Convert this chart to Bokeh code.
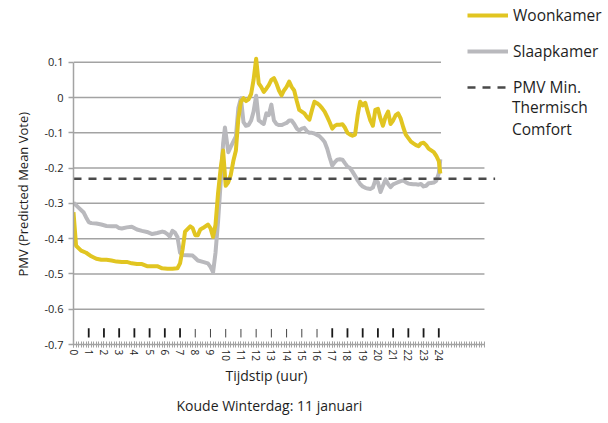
from bokeh.plotting import figure
from bokeh.models import Range1d, FixedTicker, Legend, LegendItem, Title
from bokeh.embed import file_html
from bokeh.resources import INLINE

FONT = "Open Sans"
TEXT = "#1e1e1e"
YELLOW = "#E1C521"
GRAY = "#B9B9BD"
DASH = "#4A4A4A"
GRID = "#A3A3A3"

# ---- data -------------------------------------------------------------
hour_ticks = list(range(0, 25))
y_ticks = [-0.7, -0.6, -0.5, -0.4, -0.3, -0.2, -0.1, 0.0, 0.1]
y_tick_labels = ["-0.7", "-0.6", "-0.5", "-0.4", "-0.3", "-0.2", "-0.1", "0", "0.1"]

woon_hours = [0.0, 0.17, 0.5, 0.83, 1.17, 1.5, 1.83, 2.17, 2.5, 2.83, 3.17, 3.5, 3.83,
              4.17, 4.5, 4.83, 5.17, 5.5, 5.83, 6.17, 6.5, 6.83, 7.0, 7.17, 7.33, 7.67,
              7.83, 8.0, 8.17, 8.33, 8.5, 8.83, 9.0, 9.17, 9.33, 9.5, 9.67, 9.83, 10.0,
              10.17, 10.33, 10.5, 10.67, 10.83, 11.0, 11.17, 11.33, 11.5, 11.67, 11.83,
              12.0, 12.17, 12.33, 12.5, 12.67, 12.83, 13.0, 13.17, 13.33, 13.5, 13.67,
              13.83, 14.0, 14.17, 14.33, 14.5, 14.67, 14.83, 15.0, 15.17, 15.33, 15.5,
              15.67, 15.83, 16.0, 16.17, 16.33, 16.5, 16.67, 16.83, 17.0, 17.17, 17.33,
              17.5, 17.67, 17.83, 18.0, 18.17, 18.33, 18.5, 18.67, 18.83, 19.0, 19.17,
              19.33, 19.5, 19.67, 19.83, 20.0, 20.17, 20.33, 20.5, 20.67, 20.83, 21.0,
              21.17, 21.33, 21.5, 21.67, 21.83, 22.0, 22.17, 22.33, 22.5, 22.67, 22.83,
              23.0, 23.17, 23.33, 23.5, 23.67, 23.83, 24.0, 24.1]
woon_pmv = [-0.325, -0.42, -0.434, -0.44, -0.45, -0.457, -0.46, -0.46, -0.462, -0.465,
            -0.466, -0.466, -0.47, -0.472, -0.472, -0.478, -0.478, -0.478, -0.484, -0.485,
            -0.485, -0.484, -0.47, -0.43, -0.38, -0.365, -0.37, -0.39, -0.39, -0.374,
            -0.37, -0.36, -0.37, -0.395, -0.36, -0.27, -0.2, -0.15, -0.25, -0.24, -0.22,
            -0.18, -0.15, -0.06, -0.012, -0.002, -0.01, -0.005, 0.01, 0.05, 0.11, 0.04,
            0.03, 0.016, 0.025, 0.035, 0.05, 0.055, 0.04, 0.02, 0.006, 0.02, 0.03, 0.045,
            0.03, 0.02, -0.01, -0.035, -0.04, -0.045, -0.055, -0.063, -0.035, -0.012,
            -0.016, -0.022, -0.03, -0.04, -0.055, -0.07, -0.088, -0.08, -0.077, -0.077,
            -0.076, -0.085, -0.1, -0.105, -0.108, -0.105, -0.05, -0.012, -0.022, -0.015,
            -0.04, -0.065, -0.08, -0.035, -0.032, -0.06, -0.08, -0.055, -0.04, -0.075,
            -0.065, -0.05, -0.045, -0.06, -0.085, -0.105, -0.115, -0.125, -0.13, -0.135,
            -0.138, -0.13, -0.128, -0.135, -0.145, -0.15, -0.155, -0.165, -0.18, -0.215]

slaap_hours = [0.0, 0.33, 0.67, 0.83, 1.0, 1.17, 1.5, 1.83, 2.17, 2.5, 2.83, 3.0, 3.17,
               3.5, 3.83, 4.17, 4.5, 4.83, 5.17, 5.5, 5.83, 6.0, 6.17, 6.33, 6.5, 6.67,
               6.83, 7.0, 7.17, 7.5, 7.83, 8.0, 8.17, 8.5, 8.83, 9.0, 9.17, 9.33, 9.5,
               9.67, 9.83, 9.95, 10.17, 10.33, 10.5, 10.67, 10.83, 11.0, 11.17, 11.33,
               11.5, 11.67, 11.83, 12.0, 12.17, 12.33, 12.5, 12.67, 12.83, 13.0, 13.17,
               13.33, 13.5, 13.67, 13.83, 14.0, 14.17, 14.33, 14.5, 14.67, 14.83, 15.0,
               15.17, 15.33, 15.5, 15.67, 15.83, 16.0, 16.17, 16.33, 16.5, 16.67, 16.83,
               17.0, 17.17, 17.33, 17.5, 17.67, 17.83, 18.0, 18.17, 18.33, 18.5, 18.67,
               18.83, 19.0, 19.17, 19.33, 19.5, 19.67, 19.83, 20.0, 20.17, 20.33, 20.5,
               20.67, 20.83, 21.0, 21.17, 21.33, 21.5, 21.67, 21.83, 22.0, 22.17, 22.33,
               22.5, 22.67, 22.83, 23.0, 23.17, 23.33, 23.5, 23.67, 23.83, 24.0, 24.1]
slaap_pmv = [-0.298, -0.312, -0.326, -0.34, -0.353, -0.356, -0.357, -0.36, -0.364, -0.365,
             -0.365, -0.37, -0.371, -0.368, -0.366, -0.374, -0.378, -0.381, -0.387, -0.384,
             -0.38, -0.382, -0.387, -0.394, -0.378, -0.383, -0.395, -0.44, -0.446, -0.447,
             -0.448, -0.455, -0.462, -0.466, -0.47, -0.48, -0.495, -0.44, -0.35, -0.24,
             -0.13, -0.085, -0.155, -0.14, -0.125, -0.11, -0.03, -0.002, -0.07, -0.08,
             -0.078, -0.065, -0.04, 0.005, -0.065, -0.07, -0.075, -0.045, -0.05, -0.02,
             -0.065, -0.075, -0.078, -0.078, -0.075, -0.072, -0.065, -0.065, -0.075,
             -0.088, -0.093, -0.088, -0.086, -0.095, -0.1, -0.1, -0.102, -0.106, -0.11,
             -0.117, -0.126, -0.145, -0.17, -0.193, -0.183, -0.176, -0.175, -0.176, -0.186,
             -0.196, -0.2, -0.21, -0.222, -0.235, -0.245, -0.252, -0.256, -0.258, -0.259,
             -0.255, -0.235, -0.24, -0.268, -0.25, -0.232, -0.245, -0.254, -0.246, -0.243,
             -0.24, -0.237, -0.235, -0.24, -0.244, -0.245, -0.246, -0.246, -0.247, -0.245,
             -0.252, -0.25, -0.243, -0.242, -0.241, -0.236, -0.215, -0.175]

pmv_min = -0.23

hour_marks_bold = [1, 2, 3, 4, 5, 6, 7, 17, 18, 19, 20, 21, 22, 23, 24]
hour_marks_thin = [8, 9, 10, 11, 12, 13, 14, 15, 16]

# ---- figure -----------------------------------------------------------
AXIS_END = 27.0      # where the category axis stops
DASH_END = 27.7      # reference line runs a little past the axis
X_END = 35.15        # frame runs to the page edge (room for the legend)
Y_TOP = 0.275        # frame runs to the page top (room for the legend)

p = figure(width=608, height=423, x_range=Range1d(0, X_END), y_range=Range1d(-0.7, Y_TOP),
           output_backend="svg", toolbar_location=None,
           min_border_left=73, min_border_right=0, min_border_top=0, min_border_bottom=77)
p.title.visible = False
p.outline_line_color = None
p.background_fill_color = "white"
p.border_fill_color = "white"
p.xgrid.visible = False
p.ygrid.visible = False

# horizontal gridlines, stopping at the end of the x axis
grid_y = y_ticks[1:]
p.segment(x0=0, y0=grid_y, x1=AXIS_END, y1=grid_y, line_color=GRID, line_width=1.5)

# y axis
ya = p.yaxis[0]
ya.ticker = FixedTicker(ticks=y_ticks)
ya.major_label_overrides = dict(zip(y_ticks, y_tick_labels))
ya.bounds = (-0.7, 0.1)
ya.axis_line_color = GRID
ya.axis_line_width = 1.5
ya.major_tick_line_color = GRID
ya.major_tick_line_width = 1.5
ya.major_tick_in = 0
ya.major_tick_out = 5
ya.minor_tick_line_color = None
ya.major_label_standoff = 5
ya.major_label_text_font = FONT
ya.major_label_text_font_size = "11px"
ya.major_label_text_color = TEXT

# x axis
minor = [i / 6 for i in range(0, int(AXIS_END * 6) + 1)]
xa = p.xaxis[0]
xa.ticker = FixedTicker(ticks=hour_ticks, minor_ticks=minor)
xa.bounds = (0, AXIS_END)
xa.axis_line_color = GRID
xa.axis_line_width = 1.5
xa.major_tick_line_color = GRID
xa.minor_tick_line_color = GRID
xa.major_tick_in = 3
xa.major_tick_out = 3
xa.minor_tick_in = 3
xa.minor_tick_out = 3
xa.major_label_orientation = "vertical"
xa.major_label_standoff = 2
xa.major_label_text_font = FONT
xa.major_label_text_font_size = "10px"
xa.major_label_text_color = TEXT

# hour marks above the axis
p.segment(x0=hour_marks_bold, y0=-0.68, x1=hour_marks_bold, y1=-0.654,
          line_color="#1a1a1a", line_width=1.8)
p.segment(x0=hour_marks_thin, y0=-0.68, x1=hour_marks_thin, y1=-0.656,
          line_color="#444444", line_width=1.0)

# series
sk = p.line(slaap_hours, slaap_pmv, line_color=GRAY, line_width=4, line_join="round")
wk = p.line(woon_hours, woon_pmv, line_color=YELLOW, line_width=4, line_join="round")
dash = p.line([0, DASH_END], [pmv_min, pmv_min], line_color=DASH, line_width=2.5,
              line_dash="8 7")
dummy = p.line([], [], line_alpha=0)

# legend
LEG_FONT = "15.5px"
legA = Legend(items=[LegendItem(label="Woonkamer", renderers=[wk]),
                     LegendItem(label="Slaapkamer", renderers=[sk]),
                     LegendItem(label="PMV Min.", renderers=[dash])],
              location=(368, 220.5), padding=26, margin=0, spacing=14,
              label_height=20, glyph_height=20, glyph_width=41, label_standoff=5,
              border_line_alpha=0, background_fill_color="white", background_fill_alpha=1,
              label_text_font=FONT, label_text_font_size=LEG_FONT, label_text_color=TEXT)
p.add_layout(legA)
legB = Legend(items=[LegendItem(label="Thermisch", renderers=[dummy]),
                     LegendItem(label="Comfort", renderers=[dummy])],
              location=(368, 204), padding=0, margin=0, spacing=0,
              label_height=20, glyph_height=20, glyph_width=66, label_standoff=5,
              border_line_alpha=0, background_fill_color="white", background_fill_alpha=1,
              label_text_font=FONT, label_text_font_size=LEG_FONT, label_text_color=TEXT)
p.add_layout(legB)

# texts
t_x = Title(text="Tijdstip (uur)", align="left", offset=152, standoff=0,
            text_font=FONT, text_font_size="14px", text_font_style="normal", text_color=TEXT)
p.add_layout(t_x, "below")
t_cap = Title(text="Koude Winterdag: 11 januari", align="left", offset=103, standoff=18,
              text_font=FONT, text_font_size="14px", text_font_style="normal", text_color=TEXT)
p.add_layout(t_cap, "below")
t_y = Title(text="PMV (Predicted Mean Vote)", align="left", offset=68, standoff=19,
            text_font=FONT, text_font_size="13px", text_font_style="normal", text_color=TEXT)
p.add_layout(t_y, "left")

open("out.html", "w").write(file_html(p, INLINE))
